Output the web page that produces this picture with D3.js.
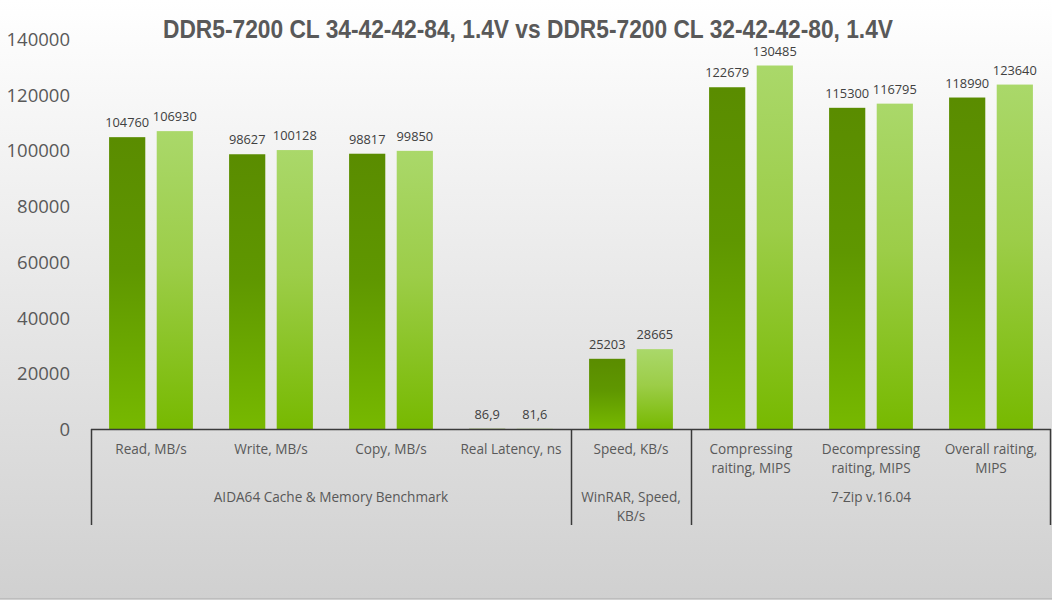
<!DOCTYPE html>
<html><head><meta charset="utf-8">
<script src="https://cdn.jsdelivr.net/npm/d3@7"></script>
<style>html,body{margin:0;padding:0;background:#fff;}svg{display:block;}</style>
</head><body>
<svg id="c" width="1052" height="600"></svg>
<script>
const title = "DDR5-7200 CL 34-42-42-84, 1.4V vs DDR5-7200 CL 32-42-42-80, 1.4V";
const categories = [
  ["Read, MB/s"], ["Write, MB/s"], ["Copy, MB/s"], ["Real Latency, ns"],
  ["Speed, KB/s"], ["Compressing", "raiting, MIPS"], ["Decompressing", "raiting, MIPS"], ["Overall raiting,", "MIPS"]
];
const groups = [
  {label: ["AIDA64 Cache & Memory Benchmark"], start: 0, end: 4},
  {label: ["WinRAR, Speed,", "KB/s"], start: 4, end: 5},
  {label: ["7-Zip v.16.04"], start: 5, end: 8}
];
const series1 = [104760, 98627, 98817, 86.9, 25203, 122679, 115300, 118990];
const series2 = [106930, 100128, 99850, 81.6, 28665, 130485, 116795, 123640];
const yTicks = [0, 20000, 40000, 60000, 80000, 100000, 120000, 140000];

const W = 1052, H = 600;
const svg = d3.select("#c");
const defs = svg.append("defs");
const bg = defs.append("linearGradient").attr("id","bg").attr("x1",0).attr("y1",0).attr("x2",0).attr("y2",1);
bg.append("stop").attr("offset","0%").attr("stop-color","#ffffff");
bg.append("stop").attr("offset","100%").attr("stop-color","#d0d0d0");
const g1 = defs.append("linearGradient").attr("id","g1").attr("x1",0).attr("y1",0).attr("x2",0).attr("y2",1);
g1.append("stop").attr("offset","0%").attr("stop-color","#5a8c00");
g1.append("stop").attr("offset","45%").attr("stop-color","#5f9700");
g1.append("stop").attr("offset","100%").attr("stop-color","#77b900");
const g2 = defs.append("linearGradient").attr("id","g2").attr("x1",0).attr("y1",0).attr("x2",0).attr("y2",1);
g2.append("stop").attr("offset","0%").attr("stop-color","#aad86a");
g2.append("stop").attr("offset","45%").attr("stop-color","#9ccd48");
g2.append("stop").attr("offset","100%").attr("stop-color","#77b900");

svg.append("rect").attr("x",0).attr("y",0).attr("width",W).attr("height",H).attr("fill","url(#bg)");
svg.append("line").attr("x1",0).attr("x2",W).attr("y1",598.5).attr("y2",598.5).attr("stroke","#bdbdbd");

const left = 91, right = 1051, y0 = 429, yTop = 39;
const x = d3.scaleBand().domain(d3.range(categories.length)).range([left, right]).paddingInner(0).paddingOuter(0);
const y = d3.scaleLinear().domain([0, 140000]).range([y0, yTop]);
const inner = d3.scaleBand().domain([0,1]).range([0, x.bandwidth()]).paddingInner(0.24).paddingOuter(0.38);

const font = "'Open Sans', 'DejaVu Sans', sans-serif";

// y axis labels
const yAxis = d3.axisLeft(y).tickValues(yTicks).tickSize(0).tickPadding(0).tickFormat(d3.format("d"));
const ya = svg.append("g").attr("transform", `translate(70,0)`).call(yAxis);
ya.select(".domain").remove();
ya.selectAll("text").attr("font-family", font).attr("font-size", 18.5).attr("fill", "#595959").attr("dy","0.35em");

// bars
const fmt = v => (Number.isInteger(v) ? String(v) : String(v).replace(".", ","));
[series1, series2].forEach((s, si) => {
  const gg = svg.append("g");
  gg.selectAll("rect").data(s).join("rect")
    .attr("x", (d,i) => x(i) + inner(si))
    .attr("width", inner.bandwidth())
    .attr("y", d => y(d))
    .attr("height", d => y0 - y(d))
    .attr("fill", si === 0 ? "url(#g1)" : "url(#g2)");
  gg.selectAll("text").data(s).join("text")
    .attr("x", (d,i) => x(i) + inner(si) + inner.bandwidth()/2)
    .attr("y", d => y(d) - 10)
    .attr("text-anchor","middle")
    .attr("font-family", font).attr("font-size", 12.8).attr("fill","#404040")
    .text(fmt);
});

// x axis
svg.append("line").attr("x1",left).attr("x2",right).attr("y1",y0+0.5).attr("y2",y0+0.5).attr("stroke","#3a3a3a").attr("stroke-width",1.5);
const seps = [0,4,5,8];
seps.forEach(i => {
  const xx = i === 8 ? right - 0.5 : x(i) + 0.5;
  svg.append("line").attr("x1",xx).attr("x2",xx).attr("y1",y0).attr("y2",525).attr("stroke","#3a3a3a").attr("stroke-width",1.5);
});
const catG = svg.append("g");
categories.forEach((lines, i) => {
  const t = catG.append("text").attr("text-anchor","middle").attr("font-family",font).attr("font-size",13.6).attr("fill","#595959");
  lines.forEach((ln, k) => t.append("tspan").attr("x", x(i) + x.bandwidth()/2).attr("y", 454 + k*19).text(ln));
});
groups.forEach(gr => {
  const cx = (x(gr.start) + (gr.end >= categories.length ? right : x(gr.end))) / 2;
  const t = svg.append("text").attr("text-anchor","middle").attr("font-family",font).attr("font-size",13.6).attr("fill","#595959");
  gr.label.forEach((ln, k) => t.append("tspan").attr("x", cx).attr("y", 502 + k*19).text(ln));
});

// title
svg.append("text").attr("x", 528).attr("y", 38).attr("text-anchor","middle")
  .attr("font-family","'Liberation Sans Narrow', 'Arial Narrow', 'Liberation Sans', sans-serif")
  .attr("font-weight","bold").attr("font-size",25).attr("fill","#595959")
  .attr("textLength", 730).attr("lengthAdjust","spacingAndGlyphs")
  .text(title);
</script>
</body></html>
